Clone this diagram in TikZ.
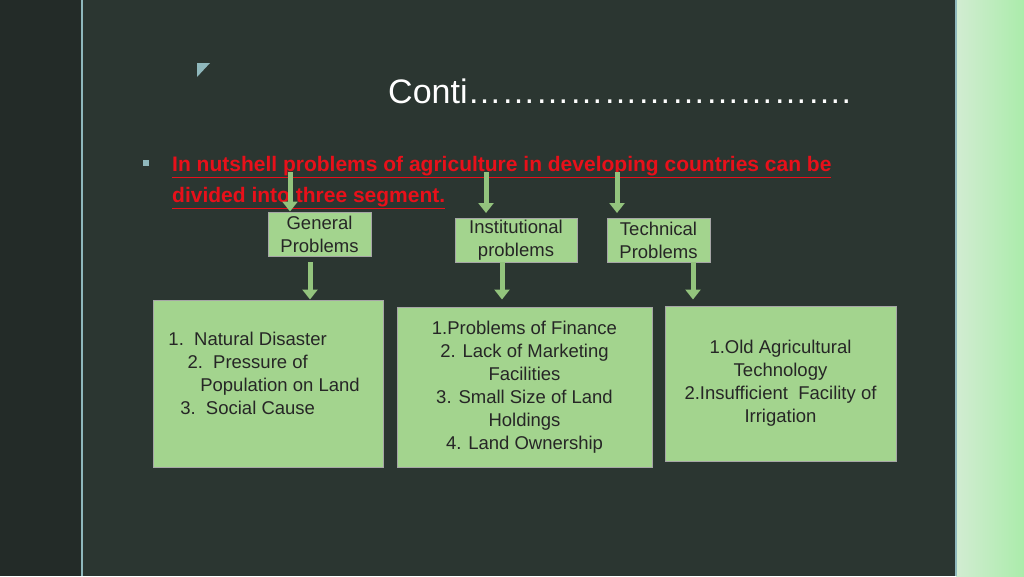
\documentclass[tikz,border=0pt]{standalone}
\usepackage{fontspec}
\setmainfont{Liberation Sans}
\usetikzlibrary{arrows.meta}
\definecolor{slide}{HTML}{2B3631}
\definecolor{strip}{HTML}{232B28}
\definecolor{edge}{HTML}{8FB8BC}
\definecolor{boxgreen}{HTML}{A3D48E}
\definecolor{arrowgreen}{HTML}{93C47D}
\definecolor{headred}{HTML}{E8101A}
\tikzset{
  probbox/.style={draw=gray!70, fill=boxgreen, line width=1pt, align=center,
    font=\fontsize{18.5}{23}\selectfont, text=black!85, inner sep=0pt},
  blockarrow/.style={arrowgreen, line width=5pt,
    -{Triangle[width=15pt,length=10pt]}}
}
\begin{document}
\begin{tikzpicture}[x=1pt,y=-1pt]
  \useasboundingbox (0,0) rectangle (1024,576);
  \fill[slide] (0,0) rectangle (1024,576);
  \fill[strip] (0,0) rectangle (82,576);
  \draw[edge, line width=2pt] (82,0) -- (82,576);
  \shade[left color=green!12!white!85!gray, right color=green!30!white!85!gray] (956,0) rectangle (1024,576);
  \draw[edge, line width=2pt] (956,0) -- (956,576);
  \fill[edge] (197,63) -- (210,63) -- (197,77) -- cycle;
  % title and heading
  \node[anchor=base west, text=white, font=\fontsize{34}{38}\selectfont, inner sep=0pt] (title) at (388,103) {Conti…………………………….};
  \fill[edge] (143,160) rectangle (149,166);
  \node[anchor=base west, text=headred, font=\bfseries\fontsize{21}{31}\selectfont, align=left, inner sep=0pt] (head) at (172,202)
    {\underline{In nutshell problems of agriculture in developing countries can be}\\
     \underline{divided into three segment.}};
  % segment boxes
  \node[probbox, minimum width=103pt, minimum height=44pt] (general) at (319.5,234) {General\\Problems};
  \node[probbox, minimum width=122pt, minimum height=44pt] (inst) at (516,240) {Institutional\\problems};
  \node[probbox, minimum width=103pt, minimum height=44pt] (tech) at (658.5,240) {Technical\\Problems};
  % detail boxes
  \node[probbox, minimum width=230pt, minimum height=167pt, text depth=20pt] (genlist) at (268,383.5)
    {\hspace{-2.2em}1.\ \ Natural Disaster\\\hspace{-2.2em}2.\ \ Pressure of\\\hspace{1.3em}Population on Land\\\hspace{-2.2em}3.\ \ Social Cause};
  \node[probbox, minimum width=255pt, minimum height=160pt] (instlist) at (524.5,387)
    {1.Problems of Finance\\2. Lack of Marketing\\Facilities\\3. Small Size of Land\\Holdings\\4. Land Ownership};
  \node[probbox, minimum width=231pt, minimum height=155pt] (techlist) at (780.5,383.5)
    {1.Old Agricultural\\Technology\\2.Insufficient\ \ Facility of\\Irrigation};
  % arrows
  \coordinate (ga) at (290,172);
  \coordinate (ia) at (486,172);
  \coordinate (ta) at (617,172);
  \coordinate (gb) at (310,262);
  \coordinate (ib) at (502,262);
  \coordinate (tb) at (693,262);
  \draw[blockarrow] (ga) -- (ga |- general.north);
  \draw[blockarrow] (ia) -- ++(0,41);
  \draw[blockarrow] (ta) -- ++(0,41);
  \draw[blockarrow] (gb) -- (gb |- genlist.north);
  \draw[blockarrow] (ib) -- (ib |- genlist.north);
  \draw[blockarrow] (tb) -- (tb |- genlist.north);
\end{tikzpicture}
\end{document}
